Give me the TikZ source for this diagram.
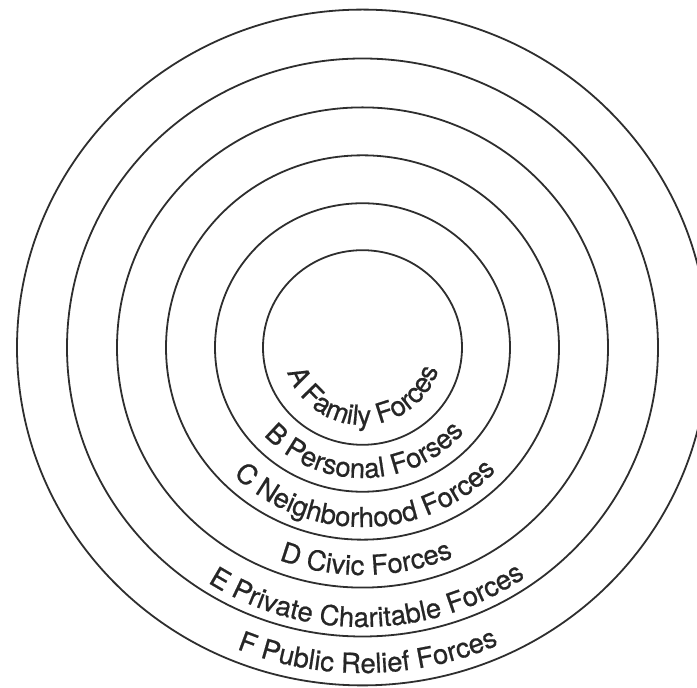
\documentclass[tikz,border=0pt]{standalone}
\usepackage{fontspec}
\newfontfamily\ringfont[FakeBold=0.6]{TeX Gyre Heros}
\usetikzlibrary{decorations.text}
\begin{document}
\begin{tikzpicture}[x=1pt,y=1pt,
  ring/.style={line width=1.8pt, draw=black!82},
  ringlabel/.style={decorate, decoration={text along path, text align=center,
     text={|\ringfont\fontsize{27.5}{27.5}\selectfont\color{black!85}|#1}}}]
\useasboundingbox (0,0) rectangle (697,688);
\clip (0,0) rectangle (697,688);
\coordinate (c) at (362.5,340.5);
\foreach \r in {99.5,147.5,196.5,245.5,295.5,345.5}
  \draw[ring] (c) ellipse [x radius=\r, y radius=0.978*\r];
\path[ringlabel={A Family Forces}] ([shift={(181:79.2 and 77.5)}]c) arc[start angle=181, end angle=361, x radius=79.2, y radius=77.5];
\path[ringlabel={B Personal Forses}] ([shift={(181:133.4 and 130.5)}]c) arc[start angle=181, end angle=361, x radius=133.4, y radius=130.5];
\path[ringlabel={C Neighborhood Forces}] ([shift={(181:183.5 and 179.5)}]c) arc[start angle=181, end angle=361, x radius=183.5, y radius=179.5];
\path[ringlabel={D Civic Forces}] ([shift={(181:232.6 and 227.5)}]c) arc[start angle=181, end angle=361, x radius=232.6, y radius=227.5];
\path[ringlabel={E Private Charitable Forces}] ([shift={(181:285.8 and 279.5)}]c) arc[start angle=181, end angle=361, x radius=285.8, y radius=279.5];
\path[ringlabel={F Public Relief Forces}] ([shift={(181:332.8 and 325.5)}]c) arc[start angle=181, end angle=361, x radius=332.8, y radius=325.5];
\end{tikzpicture}
\end{document}
